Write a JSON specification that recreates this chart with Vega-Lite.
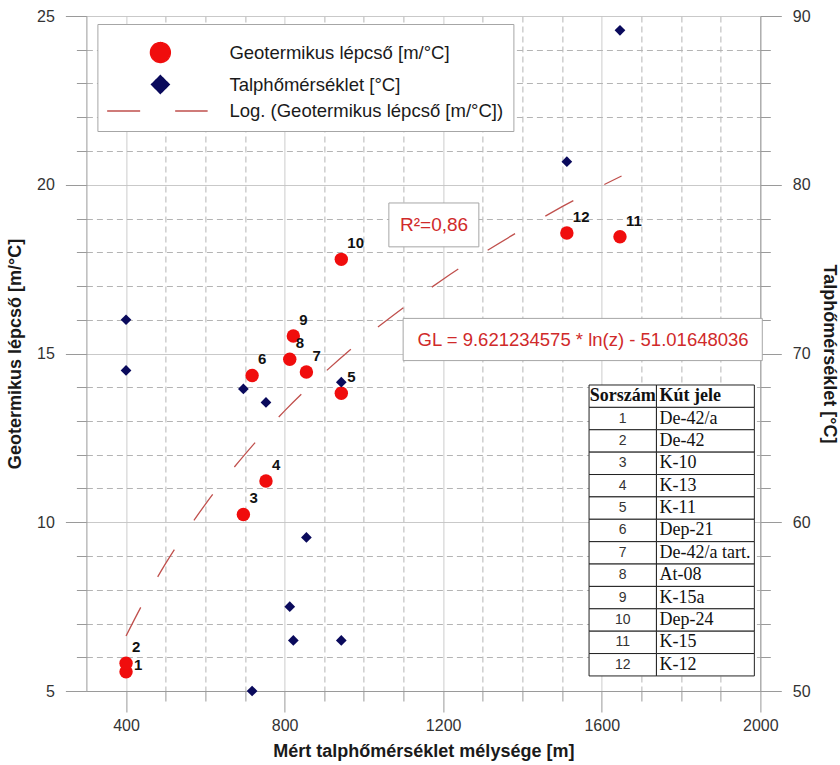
{
  "$schema": "https://vega.github.io/schema/vega-lite/v6.json",
  "width": 673.9,
  "height": 675,
  "autosize": {"type": "none"},
  "padding": {"left": 86.4, "top": 16, "right": 79.7, "bottom": 74},
  "background": "white",
  "config": {
    "view": {"stroke": null},
    "font": "Liberation Sans",
    "axis": {
      "labelFont": "Liberation Sans",
      "titleFont": "Liberation Sans",
      "labelFontSize": 16,
      "titleFontSize": 18,
      "titleFontWeight": "bold",
      "labelColor": "#333333",
      "titleColor": "#1a1a1a",
      "domainColor": "#9a9a9a",
      "tickColor": "#9a9a9a",
      "labelFlush": false,
      "labelOverlap": false,
      "tickCount": 60,
      "format": "d"
    }
  },
  "datasets": {
    "wells": [
      {"nr": 1, "depth": 400, "gl": 5.57, "temp": 72.0},
      {"nr": 2, "depth": 400, "gl": 5.82, "temp": 69.0},
      {"nr": 3, "depth": 696, "gl": 10.23, "temp": 67.9},
      {"nr": 4, "depth": 753, "gl": 11.22, "temp": 67.1},
      {"nr": 5, "depth": 943, "gl": 13.82, "temp": 68.3},
      {"nr": 6, "depth": 718, "gl": 14.35, "temp": 50.0},
      {"nr": 7, "depth": 855, "gl": 14.45, "temp": 59.1},
      {"nr": 8, "depth": 813, "gl": 14.83, "temp": 55.0},
      {"nr": 9, "depth": 822, "gl": 15.52, "temp": 53.0},
      {"nr": 10, "depth": 943, "gl": 17.79, "temp": 53.0},
      {"nr": 11, "depth": 1646, "gl": 18.46, "temp": 89.15},
      {"nr": 12, "depth": 1512, "gl": 18.57, "temp": 81.37}
    ],
    "trend": [
      {"depth": 400, "gl": 6.63},
      {"depth": 450, "gl": 7.76},
      {"depth": 500, "gl": 8.78},
      {"depth": 550, "gl": 9.69},
      {"depth": 600, "gl": 10.53},
      {"depth": 650, "gl": 11.30},
      {"depth": 700, "gl": 12.01},
      {"depth": 750, "gl": 12.68},
      {"depth": 800, "gl": 13.30},
      {"depth": 900, "gl": 14.43},
      {"depth": 1000, "gl": 15.45},
      {"depth": 1100, "gl": 16.36},
      {"depth": 1200, "gl": 17.20},
      {"depth": 1300, "gl": 17.97},
      {"depth": 1400, "gl": 18.68},
      {"depth": 1500, "gl": 19.35},
      {"depth": 1600, "gl": 19.97},
      {"depth": 1650, "gl": 20.26}
    ],
    "table": [
      {"nr": "Sorszám", "kut": "Kút jele"},
      {"nr": "1", "kut": "De-42/a"},
      {"nr": "2", "kut": "De-42"},
      {"nr": "3", "kut": "K-10"},
      {"nr": "4", "kut": "K-13"},
      {"nr": "5", "kut": "K-11"},
      {"nr": "6", "kut": "Dep-21"},
      {"nr": "7", "kut": "De-42/a tart."},
      {"nr": "8", "kut": "At-08"},
      {"nr": "9", "kut": "K-15a"},
      {"nr": "10", "kut": "Dep-24"},
      {"nr": "11", "kut": "K-15"},
      {"nr": "12", "kut": "K-12"}
    ]
  },
  "layer": [
    {
      "layer": [
        {
          "data": {"name": "trend"},
          "mark": {"type": "line", "strokeWidth": 1.3, "strokeDash": [32, 35], "interpolate": "monotone"},
          "encoding": {
            "x": {
              "field": "depth", "type": "quantitative",
              "scale": {"domain": [300, 2000], "nice": false, "zero": false},
              "title": "Mért talphőmérséklet mélysége [m]",
              "axis": {
                "values": [400, 500, 600, 700, 800, 900, 1000, 1100, 1200, 1300, 1400, 1500, 1600, 1700, 1800, 1900, 2000],
                "tickCount": 60,
                "format": "d",
                "labelExpr": "datum.value % 400 === 0 ? datum.label : ''",
                "grid": true,
                "gridColor": {"condition": {"test": "datum.value % 400 === 0", "value": "#c4c4c4"}, "value": "#b4b4b4"},
                "gridDash": {"condition": {"test": "datum.value % 400 === 0", "value": [1, 0]}, "value": [6, 4]},
                "tickSize": {"condition": {"test": "datum.value % 400 === 0", "value": 21}, "value": 10},
                "labelPadding": 5,
                "titlePadding": 9
              }
            },
            "y": {
              "field": "gl", "type": "quantitative",
              "scale": {"domain": [5, 25], "nice": false, "zero": false},
              "title": "Geotermikus lépcső [m/°C]",
              "axis": {
                "values": [5, 6, 7, 8, 9, 10, 11, 12, 13, 14, 15, 16, 17, 18, 19, 20, 21, 22, 23, 24, 25],
                "tickCount": 60,
                "format": "d",
                "labelExpr": "datum.value % 5 === 0 ? datum.label : ''",
                "grid": true,
                "gridColor": {"condition": {"test": "datum.value % 5 === 0", "value": "#c4c4c4"}, "value": "#b4b4b4"},
                "gridDash": {"condition": {"test": "datum.value % 5 === 0", "value": [1, 0]}, "value": [6, 4]},
                "tickSize": {"condition": {"test": "datum.value % 5 === 0", "value": 21}, "value": 10},
                "labelPadding": 11,
                "titlePadding": 12
              }
            },
            "color": {
              "datum": "Log. (Geotermikus lépcső [m/°C])",
              "scale": {
                "domain": ["Geotermikus lépcső [m/°C]", "Talphőmérséklet [°C]", "Log. (Geotermikus lépcső [m/°C])"],
                "range": ["#f00d0d", "#0a0a5c", "#c0504d"]
              },
              "legend": {
                "title": null,
                "orient": "none",
                "legendX": 11,
                "legendY": 8,
                "direction": "vertical",
                "fillColor": "white",
                "strokeColor": "#a6a6a6",
                "padding": 10,
                "cornerRadius": 0,
                "labelFont": "Liberation Sans",
                "labelFontSize": 18.5,
                "labelColor": "#1a1a1a",
                "labelOffset": 100,
                "labelLimit": 400,
                "symbolSize": 400,
                "rowPadding": 0,
                "values": ["Geotermikus lépcső [m/°C]", "Talphőmérséklet [°C]", "Log. (Geotermikus lépcső [m/°C])"],
                "encode": {
                  "symbols": {
                    "update": {
                      "shape": {"signal": "datum.value === 'Log. (Geotermikus lépcső [m/°C])' ? 'stroke' : datum.value === 'Talphőmérséklet [°C]' ? 'diamond' : 'circle'"},
                      "size": {"signal": "datum.value === 'Log. (Geotermikus lépcső [m/°C])' ? 10100 : datum.value === 'Talphőmérséklet [°C]' ? 324 : 400"},
                      "fill": {"signal": "datum.value === 'Log. (Geotermikus lépcső [m/°C])' ? 'transparent' : datum.value === 'Talphőmérséklet [°C]' ? '#0a0a5c' : '#f00d0d'"},
                      "stroke": {"signal": "datum.value === 'Log. (Geotermikus lépcső [m/°C])' ? '#c0504d' : 'transparent'"},
                      "strokeWidth": {"value": 1.3},
                      "strokeDash": {"signal": "datum.value === 'Log. (Geotermikus lépcső [m/°C])' ? [33,35] : [1,0]"},
                      "x": {"signal": "datum.value === 'Log. (Geotermikus lépcső [m/°C])' ? 50 : 53"},
                      "y": {"signal": "datum.value === 'Log. (Geotermikus lépcső [m/°C])' ? 14 : 18.5"},
                      "opacity": {"value": 1}
                    }
                  },
                  "labels": {"update": {"y": {"signal": "datum.value === 'Log. (Geotermikus lépcső [m/°C])' ? 14 : 18.5"}}}
                }
              }
            }
          }
        },
        {
          "data": {"name": "wells"},
          "mark": {"type": "point", "shape": "circle", "filled": true, "size": 180, "opacity": 1},
          "encoding": {
            "x": {"field": "depth", "type": "quantitative", "title": "Mért talphőmérséklet mélysége [m]"},
            "y": {"field": "gl", "type": "quantitative", "title": "Geotermikus lépcső [m/°C]"},
            "color": {"datum": "Geotermikus lépcső [m/°C]"}
          }
        },
        {
          "data": {"name": "wells"},
          "transform": [{"filter": "datum.nr !== 1"}],
          "mark": {"type": "text", "align": "left", "baseline": "middle", "dx": 6, "dy": -16, "fontWeight": "bold", "fontSize": 15, "font": "Liberation Sans", "color": "#111111"},
          "encoding": {
            "x": {"field": "depth", "type": "quantitative", "title": "Mért talphőmérséklet mélysége [m]"},
            "y": {"field": "gl", "type": "quantitative", "title": "Geotermikus lépcső [m/°C]"},
            "text": {"field": "nr"}
          }
        },
        {
          "data": {"name": "wells"},
          "transform": [{"filter": "datum.nr === 1"}],
          "mark": {"type": "text", "align": "left", "baseline": "middle", "dx": 8, "dy": -7, "fontWeight": "bold", "fontSize": 15, "font": "Liberation Sans", "color": "#111111"},
          "encoding": {
            "x": {"field": "depth", "type": "quantitative", "title": "Mért talphőmérséklet mélysége [m]"},
            "y": {"field": "gl", "type": "quantitative", "title": "Geotermikus lépcső [m/°C]"},
            "text": {"field": "nr"}
          }
        },
        {
          "data": {"values": [{}]},
          "mark": {"type": "rect", "fill": "white", "stroke": "#a6a6a6", "strokeWidth": 1},
          "encoding": {
            "x": {"datum": 1063}, "x2": {"datum": 1290},
            "y": {"datum": 19.46}, "y2": {"datum": 18.16}
          }
        },
        {
          "data": {"values": [{}]},
          "mark": {"type": "text", "text": "R²=0,86", "align": "center", "baseline": "middle", "fontSize": 19, "font": "Liberation Sans", "color": "#d02a2a"},
          "encoding": {"x": {"datum": 1177}, "y": {"datum": 18.81}}
        },
        {
          "data": {"values": [{}]},
          "mark": {"type": "rect", "fill": "white", "stroke": "#a6a6a6", "strokeWidth": 1},
          "encoding": {
            "x": {"datum": 1099}, "x2": {"datum": 2005},
            "y": {"datum": 16.04}, "y2": {"datum": 14.79}
          }
        },
        {
          "data": {"values": [{}]},
          "mark": {"type": "text", "text": "GL = 9.621234575 * ln(z) - 51.01648036", "align": "center", "baseline": "middle", "fontSize": 18.5, "font": "Liberation Sans", "color": "#d02a2a"},
          "encoding": {"x": {"datum": 1553}, "y": {"datum": 15.41}}
        }
      ]
    },
    {
      "data": {"name": "wells"},
      "mark": {"type": "point", "shape": "diamond", "filled": true, "size": 115, "opacity": 1},
      "encoding": {
        "x": {"field": "depth", "type": "quantitative", "title": "Mért talphőmérséklet mélysége [m]"},
        "y": {
          "field": "temp", "type": "quantitative",
          "scale": {"domain": [50, 90], "nice": false, "zero": false},
          "title": "Talphőmérséklet [°C]",
          "axis": {
            "orient": "right",
            "values": [50, 52, 54, 56, 58, 60, 62, 64, 66, 68, 70, 72, 74, 76, 78, 80, 82, 84, 86, 88, 90],
            "tickCount": 60,
            "format": "d",
            "labelExpr": "datum.value % 10 === 0 ? datum.label : ''",
            "grid": false,
            "tickSize": {"condition": {"test": "datum.value % 10 === 0", "value": 21}, "value": 10},
            "labelPadding": 11,
            "titlePadding": 9
          }
        },
        "color": {"datum": "Talphőmérséklet [°C]"}
      }
    },
    {
      "data": {"name": "table"},
      "encoding": {
        "y": {
          "field": "nr", "type": "ordinal", "sort": null,
          "scale": {
            "domain": ["f1", "f2", "f3", "f4", "f5", "f6", "f7", "f8", "f9", "f10", "f11", "f12", "f13", "f14", "f15", "f16", "Sorszám", "1", "2", "3", "4", "5", "6", "7", "8", "9", "10", "11", "12"],
            "paddingInner": 0, "paddingOuter": 0.58, "align": 0.42
          },
          "axis": null
        }
      },
      "layer": [
        {
          "mark": {"type": "rect", "fill": "white", "stroke": "#222222", "strokeWidth": 1},
          "encoding": {"x": {"datum": 1568}, "x2": {"datum": 1738}}
        },
        {
          "mark": {"type": "rect", "fill": "white", "stroke": "#222222", "strokeWidth": 1},
          "encoding": {"x": {"datum": 1738}, "x2": {"datum": 1985}}
        },
        {
          "transform": [{"filter": "datum.nr === 'Sorszám'"}],
          "mark": {"type": "text", "align": "center", "baseline": "middle", "font": "Liberation Serif", "fontWeight": "bold", "fontSize": 18, "color": "#111111"},
          "encoding": {"x": {"datum": 1653}, "text": {"field": "nr"}}
        },
        {
          "transform": [{"filter": "datum.nr === 'Sorszám'"}],
          "mark": {"type": "text", "align": "left", "baseline": "middle", "font": "Liberation Serif", "fontWeight": "bold", "fontSize": 18, "color": "#111111"},
          "encoding": {"x": {"datum": 1746}, "text": {"field": "kut"}}
        },
        {
          "transform": [{"filter": "datum.nr !== 'Sorszám'"}],
          "mark": {"type": "text", "align": "center", "baseline": "middle", "font": "Liberation Sans", "fontSize": 14, "color": "#333333"},
          "encoding": {"x": {"datum": 1653}, "text": {"field": "nr"}}
        },
        {
          "transform": [{"filter": "datum.nr !== 'Sorszám'"}],
          "mark": {"type": "text", "align": "left", "baseline": "middle", "font": "Liberation Serif", "fontSize": 18, "color": "#111111"},
          "encoding": {"x": {"datum": 1746}, "text": {"field": "kut"}}
        }
      ]
    }
  ],
  "resolve": {"scale": {"y": "independent"}}
}
